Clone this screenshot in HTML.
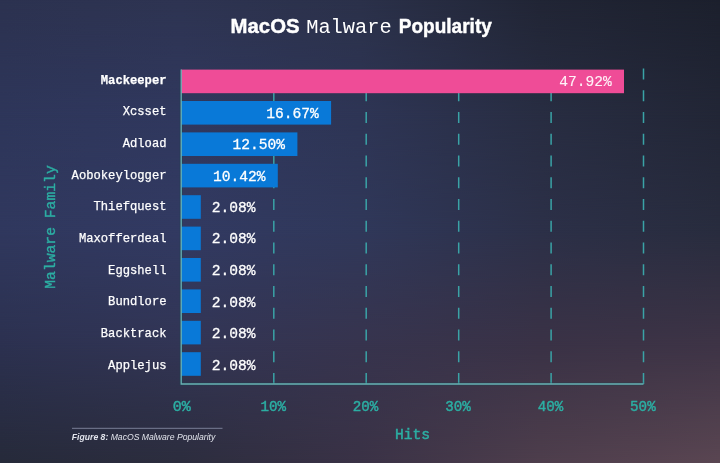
<!DOCTYPE html>
<html><head><meta charset="utf-8">
<style>
html,body{margin:0;padding:0;}
body{width:720px;height:463px;overflow:hidden;position:relative;background:#2c3250;}
.bg{position:absolute;left:0;top:0;width:720px;height:463px;}
svg{position:absolute;left:0;top:0;filter:blur(0.35px);}
.mono{font-family:"Liberation Mono",monospace;}
.sans{font-family:"Liberation Sans",sans-serif;}
</style></head>
<body>
<div class="bg" style="background:linear-gradient(to right,rgb(44, 50, 80) 0px,rgb(46, 52, 82) 180px,rgb(43, 49, 74) 360px,rgb(33, 37, 53) 540px,rgb(28, 32, 45) 720px);"></div><div class="bg" style="background:linear-gradient(to right,rgb(46, 54, 90) 0px,rgb(48, 56, 94) 180px,rgb(46, 53, 85) 360px,rgb(40, 45, 66) 540px,rgb(34, 38, 54) 720px);-webkit-mask-image:linear-gradient(to bottom, transparent 0px, #000 115px);mask-image:linear-gradient(to bottom, transparent 0px, #000 115px);"></div><div class="bg" style="background:linear-gradient(to right,rgb(48, 56, 94) 0px,rgb(50, 58, 98) 180px,rgb(48, 56, 90) 360px,rgb(44, 48, 72) 540px,rgb(40, 44, 62) 720px);-webkit-mask-image:linear-gradient(to bottom, transparent 115px, #000 230px);mask-image:linear-gradient(to bottom, transparent 115px, #000 230px);"></div><div class="bg" style="background:linear-gradient(to right,rgb(44, 49, 80) 0px,rgb(50, 53, 85) 180px,rgb(55, 52, 78) 360px,rgb(58, 50, 70) 540px,rgb(62, 52, 70) 720px);-webkit-mask-image:linear-gradient(to bottom, transparent 230px, #000 345px);mask-image:linear-gradient(to bottom, transparent 230px, #000 345px);"></div><div class="bg" style="background:linear-gradient(to right,rgb(38, 42, 58) 0px,rgb(44, 45, 62) 180px,rgb(58, 50, 70) 360px,rgb(78, 62, 76) 540px,rgb(90, 70, 82) 720px);-webkit-mask-image:linear-gradient(to bottom, transparent 345px, #000 463px);mask-image:linear-gradient(to bottom, transparent 345px, #000 463px);"></div>
<svg width="720" height="463" viewBox="0 0 720 463">
<g fill="#ffffff">
<text class="sans" x="230.6" y="33" font-size="20.3" font-weight="bold" stroke="#fff" stroke-width="0.45" textLength="69" lengthAdjust="spacingAndGlyphs">MacOS</text>
<text class="mono" x="306.2" y="33.3" font-size="20" textLength="85.5" lengthAdjust="spacingAndGlyphs">Malware</text>
<text class="sans" x="398.8" y="33" font-size="20.3" font-weight="bold" stroke="#fff" stroke-width="0.45" textLength="93" lengthAdjust="spacingAndGlyphs">Popularity</text>
</g>
<g stroke="#3aa3a6" stroke-width="1.5" stroke-dasharray="11 10.75"><line x1="273.8" y1="384" x2="273.8" y2="70.5"/><line x1="366.2" y1="384" x2="366.2" y2="70.5"/><line x1="458.7" y1="384" x2="458.7" y2="70.5"/><line x1="551.1" y1="384" x2="551.1" y2="70.5"/><line x1="643.5" y1="384" x2="643.5" y2="68.4"/></g>
<polyline points="181.2,69.5 181.2,384 643.5,384" fill="none" stroke="#1c4450" stroke-width="3.2" opacity="0.45"/>
<rect x="181" y="69.60" width="443.0" height="23.6" fill="#ef4c97"/><rect x="181" y="101.00" width="150.1" height="23.6" fill="#0979d8"/><rect x="181" y="132.40" width="116.4" height="23.6" fill="#0979d8"/><rect x="181" y="163.80" width="96.8" height="23.6" fill="#0979d8"/><rect x="181" y="195.20" width="19.8" height="23.6" fill="#0979d8"/><rect x="181" y="226.60" width="19.8" height="23.6" fill="#0979d8"/><rect x="181" y="258.00" width="19.8" height="23.6" fill="#0979d8"/><rect x="181" y="289.40" width="19.8" height="23.6" fill="#0979d8"/><rect x="181" y="320.80" width="19.8" height="23.6" fill="#0979d8"/><rect x="181" y="352.20" width="19.8" height="23.6" fill="#0979d8"/>
<g fill="none">
<polyline points="181.2,69.5 181.2,384 643.5,384" stroke="#68b2b4" stroke-width="1.3"/>
</g>
<g class="mono" fill="#ffffff" stroke="#ffffff" stroke-width="0.25" font-size="12.7" text-anchor="end"><text x="166.5" y="83.70" font-weight="bold" textLength="65.70" lengthAdjust="spacingAndGlyphs">Mackeeper</text><text x="166.5" y="115.35" textLength="43.80" lengthAdjust="spacingAndGlyphs">Xcsset</text><text x="166.5" y="147.00" textLength="43.80" lengthAdjust="spacingAndGlyphs">Adload</text><text x="166.5" y="178.65" textLength="94.90" lengthAdjust="spacingAndGlyphs">Aobokeylogger</text><text x="166.5" y="210.30" textLength="73.00" lengthAdjust="spacingAndGlyphs">Thiefquest</text><text x="166.5" y="241.95" textLength="87.60" lengthAdjust="spacingAndGlyphs">Maxofferdeal</text><text x="166.5" y="273.60" textLength="58.40" lengthAdjust="spacingAndGlyphs">Eggshell</text><text x="166.5" y="305.25" textLength="58.40" lengthAdjust="spacingAndGlyphs">Bundlore</text><text x="166.5" y="336.90" textLength="65.70" lengthAdjust="spacingAndGlyphs">Backtrack</text><text x="166.5" y="368.55" textLength="58.40" lengthAdjust="spacingAndGlyphs">Applejus</text></g>
<g class="mono" fill="#ffffff" stroke="#ffffff" stroke-width="0.3" font-size="14.6"><text x="611.7" y="86.10" text-anchor="end" fill="#fff2f8" stroke="#fff2f8" stroke-width="0.12">47.92%</text><text x="318.8" y="117.70" text-anchor="end">16.67%</text><text x="285.1" y="149.30" text-anchor="end">12.50%</text><text x="265.5" y="180.90" text-anchor="end">10.42%</text><text x="211.8" y="211.70">2.08%</text><text x="211.8" y="243.30">2.08%</text><text x="211.8" y="274.90">2.08%</text><text x="211.8" y="306.50">2.08%</text><text x="211.8" y="338.10">2.08%</text><text x="211.8" y="369.70">2.08%</text></g>
<g class="mono" fill="#2caea3" stroke="#2caea3" stroke-width="0.45" font-size="15" text-anchor="middle"><text x="181.7" y="411.2">0%</text><text x="273.2" y="411.2" textLength="25.6" lengthAdjust="spacingAndGlyphs">10%</text><text x="365.6" y="411.2" textLength="25.6" lengthAdjust="spacingAndGlyphs">20%</text><text x="458.1" y="411.2" textLength="25.6" lengthAdjust="spacingAndGlyphs">30%</text><text x="550.5" y="411.2" textLength="25.6" lengthAdjust="spacingAndGlyphs">40%</text><text x="642.9" y="411.2" textLength="25.6" lengthAdjust="spacingAndGlyphs">50%</text></g>
<text class="mono" x="412.5" y="439.2" fill="#2caea3" stroke="#2caea3" stroke-width="0.5" font-size="15.5" text-anchor="middle" textLength="35.2" lengthAdjust="spacingAndGlyphs">Hits</text>
<text class="mono" transform="translate(54.9,227) rotate(-90)" fill="#2caea3" stroke="#2caea3" stroke-width="0.4" font-size="14.7" text-anchor="middle">Malware Family</text>
<line x1="72" y1="428.3" x2="222.5" y2="428.3" stroke="#7a7f96" stroke-width="1"/>
<text class="sans" x="71.8" y="439.6" fill="#e2e4ec" font-size="9.1" font-style="italic" textLength="143.5" lengthAdjust="spacingAndGlyphs"><tspan font-weight="bold">Figure 8:</tspan> MacOS Malware Popularity</text>
</svg>
</body></html>
